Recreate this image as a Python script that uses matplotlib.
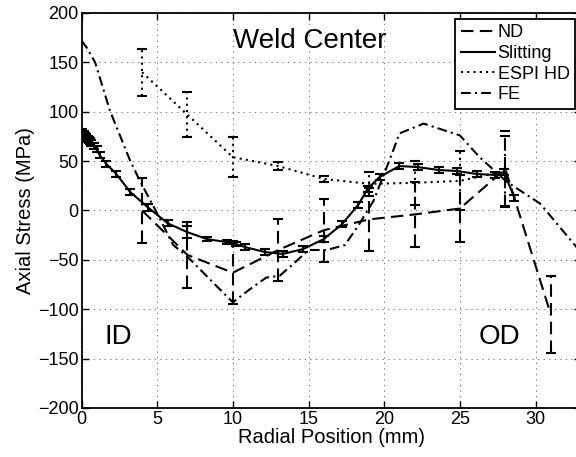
import matplotlib
matplotlib.use("Agg")
import matplotlib.pyplot as plt
from matplotlib.lines import Line2D

plt.rcParams['font.family'] = ['Liberation Sans', 'DejaVu Sans']
plt.rcParams['lines.scale_dashes'] = False

# ---- data ----
nd_x = [4, 7, 10, 13, 16, 19, 22, 25, 28, 31]
nd_y = [0, -45, -63, -40, -20, -9, -4, 2, 42, -105]
nd_err = [33, 33, 32, 31, 32, 32, 33, 34, 38, 39]

slit_x = [0.0, 0.08, 0.16, 0.24, 0.32, 0.40, 0.48, 0.56, 0.65, 0.8, 1.0, 1.2, 1.65,
          2.3, 3.2, 4.4, 5.7, 7.0, 8.3, 9.6, 10.2, 10.8, 12.1, 13.3, 14.65, 16.0,
          17.2, 18.3, 18.9, 19.7, 21.0, 22.2, 23.6, 24.8, 26.1, 27.3, 27.9, 28.6]
slit_y = [80, 78, 77, 75, 74, 72, 71, 70, 68, 65, 62, 56, 47,
          37, 19, 3, -13, -22, -29, -32, -34, -37, -42, -44, -39, -29,
          -14, 6, 22, 34, 45, 44, 41, 40, 37, 36, 39, 13]
slit_err = [3, 3, 3, 3, 3, 3, 3, 3, 3, 3, 3, 3, 3,
            3, 3, 4, 3, 6, 2, 2, 2, 3, 3, 3, 3, 3,
            3, 3, 3, 3, 3, 3, 3, 3, 3, 3, 3, 3]

espi_x = [4, 7, 10, 13, 16, 19, 22, 25, 28]
espi_y = [140, 97, 54, 45, 32, 27, 28, 30, 40]
espi_err = [24, 23, 20, 4, 3, 12, 22, 30, 35]

fe_x = [0, 0.34, 0.9, 1.88, 3.2, 3.86, 5.0, 6.06, 6.95, 8.5, 10.0, 11.1, 12.2, 13.1,
        14.0, 15.0, 16.2, 17.4, 18.3, 19.3, 20.6, 21.0, 22.6, 25.0, 26.3, 28.1,
        30.3, 32.7, 33.5]
fe_y = [172, 165, 150, 101, 51, 30, -3, -35, -46, -70, -93, -80, -68, -66,
        -54, -40, -40, -35, -15, 10, 61, 78, 88, 76, 54, 29,
        7, -37, -51]

xticks = [0, 5, 10, 15, 20, 25, 30]
yticks = [-200, -150, -100, -50, 0, 50, 100, 150, 200]

ND_DASH = (0, (9, 4.5))
FE_DASH = (0, (7, 3, 1.5, 3))
DOT = (0, (1.5, 3))
LW = 1.5

fig = plt.figure(figsize=(5.76, 4.57), dpi=100)
ax = fig.add_axes([81.5 / 576, 49 / 457, 499.5 / 576, 395 / 457])

# grid
ax.set_axisbelow(True)
ax.grid(True, color='0.5', linestyle=(0, (1, 3)), linewidth=0.7)


def draw(x, y, err, ls):
    ax.plot(x, y, color='k', lw=LW, linestyle=ls)
    if err is not None:
        eb = ax.errorbar(x, y, yerr=err, fmt='none', ecolor='k', elinewidth=LW,
                         capsize=3.5, capthick=LW)
        for lc in eb.lines[2]:
            lc.set_linestyle(ls)


draw(nd_x, nd_y, nd_err, ND_DASH)
draw(slit_x, slit_y, slit_err, '-')
draw(espi_x, espi_y, espi_err, DOT)
draw(fe_x, fe_y, None, FE_DASH)

ax.set_xlim(0, 33)
ax.set_ylim(-200, 200)
ax.set_xticks(xticks)
ax.set_yticks(yticks)
ax.set_yticklabels(['\u2212200', '\u2212150', '\u2212100', '\u221250', '0', '50', '100', '150', '200'])
ax.tick_params(direction='in', top=True, right=True, length=5, width=1, labelsize=13, pad=2)
for s in ax.spines.values():
    s.set_linewidth(1.3)

ax.set_xlabel('Radial Position (mm)', fontsize=14.5, labelpad=0)
ax.set_ylabel('Axial Stress (MPa)', fontsize=14.5, labelpad=2)

ax.text(15.1, 165, 'Weld Center', fontsize=20, ha='center', va='baseline')
ax.text(1.55, -135, 'ID', fontsize=20, ha='left', va='baseline')
ax.text(27.6, -135, 'OD', fontsize=20, ha='center', va='baseline')

handles = [Line2D([], [], color='k', lw=LW, linestyle=ND_DASH),
           Line2D([], [], color='k', lw=LW, linestyle='-'),
           Line2D([], [], color='k', lw=LW, linestyle=DOT),
           Line2D([], [], color='k', lw=LW, linestyle=FE_DASH)]
leg = ax.legend(handles, ['ND', 'Slitting', 'ESPI HD', 'FE'], loc='upper right',
                bbox_to_anchor=(575 / 576, 1 - 19 / 457), bbox_transform=fig.transFigure,
                borderaxespad=0, fontsize=13, handlelength=1.9, handletextpad=0.15,
                labelspacing=0.2, borderpad=0.3, fancybox=False, framealpha=1,
                edgecolor='k')
leg.get_frame().set_linewidth(1.3)

fig.savefig('out.png', dpi=100)
